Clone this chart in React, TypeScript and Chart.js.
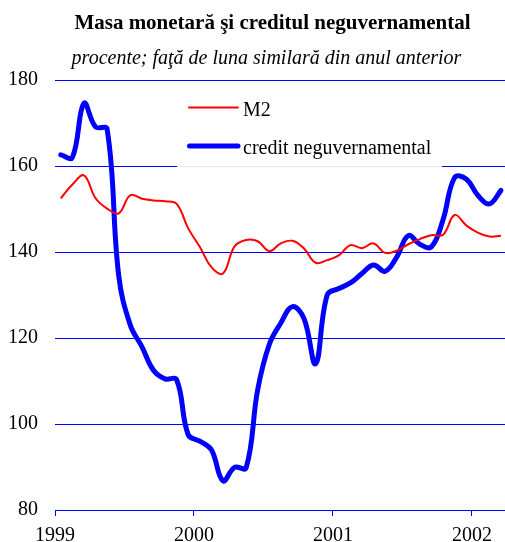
import React, { useEffect, useRef } from 'react';
import { Chart, registerables } from 'chart.js';

Chart.register(...registerables);

const TITLE = 'Masa monetară şi creditul neguvernamental';
const SUBTITLE = 'procente; faţă de luna similară din anul anterior';
const SERIES_NAMES = ['M2', 'credit neguvernamental'];

const months = [
  '1999-01', '1999-02', '1999-03', '1999-04', '1999-05', '1999-06',
  '1999-07', '1999-08', '1999-09', '1999-10', '1999-11', '1999-12',
  '2000-01', '2000-02', '2000-03', '2000-04', '2000-05', '2000-06',
  '2000-07', '2000-08', '2000-09', '2000-10', '2000-11', '2000-12',
  '2001-01', '2001-02', '2001-03', '2001-04', '2001-05', '2001-06',
  '2001-07', '2001-08', '2001-09', '2001-10', '2001-11', '2001-12',
  '2002-01', '2002-02', '2002-03',
];

const m2 = [
  152.5, 155.7, 157.8, 152.5, 150.1, 149.0, 153.2, 152.4, 152.0, 151.8,
  151.2, 145.5, 141.2, 136.5, 135.0, 141.3, 142.8, 142.5, 140.2, 142.0,
  142.6, 140.8, 137.5, 138.1, 139.2, 141.6, 140.9, 142.0, 139.8, 140.3,
  141.8, 143.0, 143.9, 144.0, 148.6, 146.2, 144.5, 143.6, 143.8,
];

const credit = [
  162.6, 162.0, 174.6, 169.1, 168.6, 134.5, 123.0, 118.0, 112.5, 110.5,
  110.3, 97.5, 96.0, 94.0, 86.8, 89.9, 89.8, 108.0, 118.5, 123.5,
  127.3, 124.5, 114.0, 130.0, 131.5, 132.8, 135.0, 137.0, 135.5, 138.8,
  143.8, 141.8, 141.2, 147.5, 157.3, 157.0, 153.2, 151.2, 154.3,
];

const yearTicks = [1999, 2000, 2001, 2002];
const yMin = 80;
const yMax = 180;
const yStep = 20;

const SERIF = '"Liberation Serif", "Times New Roman", serif';
const RED = '#ff0000';
const BLUE = '#0000ff';

const decorPlugin = {
  id: 'decor',
  afterDraw(chart: any) {
    const { ctx, chartArea } = chart;
    const L = chartArea.left;
    const T = chartArea.top;
    ctx.save();
    ctx.fillStyle = '#000';
    ctx.textBaseline = 'alphabetic';
    ctx.textAlign = 'center';
    ctx.font = `bold 21px ${SERIF}`;
    ctx.fillText(TITLE, L + 217.5, T - 51.5);
    ctx.font = `italic 20px ${SERIF}`;
    ctx.fillText(SUBTITLE, L + 211.5, T - 16.5);

    // legend box
    ctx.fillStyle = 'rgba(255,255,255,0.9)';
    ctx.fillRect(L + 122, T + 6, 265, 81);

    ctx.lineCap = 'round';
    ctx.strokeStyle = RED;
    ctx.lineWidth = 2;
    ctx.beginPath();
    ctx.moveTo(L + 134, T + 27.5);
    ctx.lineTo(L + 183, T + 27.5);
    ctx.stroke();

    ctx.strokeStyle = BLUE;
    ctx.lineWidth = 5;
    ctx.beginPath();
    ctx.moveTo(L + 134.5, T + 66);
    ctx.lineTo(L + 183, T + 66);
    ctx.stroke();

    ctx.fillStyle = '#000';
    ctx.textAlign = 'left';
    ctx.font = `20px ${SERIF}`;
    ctx.fillText(SERIES_NAMES[0], L + 188, T + 35.5);
    ctx.fillText(SERIES_NAMES[1], L + 188, T + 74.3);
    ctx.restore();
  },
};

export default function App() {
  const ref = useRef<HTMLCanvasElement | null>(null);

  useEffect(() => {
    if (!ref.current) return;
    const toPoints = (vals: number[]) => vals.map((v, i) => ({ x: i + 0.5, y: v }));
    const chart = new Chart(ref.current, {
      type: 'line',
      data: {
        labels: months,
        datasets: [
          {
            label: SERIES_NAMES[0],
            data: toPoints(m2),
            borderColor: RED,
            borderWidth: 2,
            pointRadius: 0,
            tension: 0.4,
            fill: false,
          },
          {
            label: SERIES_NAMES[1],
            data: toPoints(credit),
            borderColor: BLUE,
            borderWidth: 5,
            borderCapStyle: 'round',
            borderJoinStyle: 'round',
            pointRadius: 0,
            tension: 0.4,
            fill: false,
          },
        ],
      },
      options: {
        responsive: false,
        animation: false,
        layout: { padding: { top: 80, right: 0, left: 0, bottom: 0 } },
        plugins: {
          legend: { display: false },
          title: { display: false },
          tooltip: { enabled: false },
        },
        scales: {
          x: {
            type: 'linear',
            min: 0,
            max: 38.85,
            afterBuildTicks: (axis: any) => {
              axis.ticks = yearTicks.map((y) => ({ value: (y - yearTicks[0]) * 12 }));
            },
            afterFit: (axis: any) => {
              axis.height = 32;
            },
            ticks: {
              callback: (v: any) => String(yearTicks[0] + Math.round(Number(v) / 12)),
              color: '#000',
              font: { family: SERIF, size: 20 },
              padding: 8,
              maxRotation: 0,
              autoSkip: false,
            },
            grid: {
              drawOnChartArea: false,
              drawTicks: true,
              tickLength: 6,
              color: BLUE,
            },
            border: { display: true, color: BLUE, width: 1 },
          },
          y: {
            min: yMin,
            max: yMax,
            afterFit: (axis: any) => {
              axis.width = 55;
            },
            ticks: {
              stepSize: yStep,
              color: '#000',
              font: { family: SERIF, size: 20 },
              padding: 17,
            },
            grid: {
              color: BLUE,
              lineWidth: 1,
              drawTicks: false,
            },
            border: { display: false },
          },
        },
      },
      plugins: [decorPlugin],
    });
    return () => chart.destroy();
  }, []);

  return (
    <div
      style={{
        position: 'absolute',
        left: 0,
        top: 0,
        width: 505,
        height: 542,
        overflow: 'hidden',
        background: '#fff',
      }}
    >
      <canvas ref={ref} width={505} height={542} style={{ width: 505, height: 542, display: 'block' }} />
    </div>
  );
}
